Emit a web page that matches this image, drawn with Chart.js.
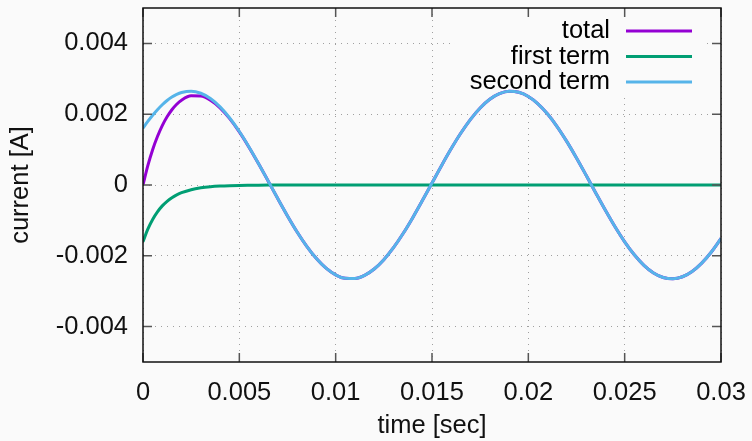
<!DOCTYPE html>
<html>
<head>
<meta charset="utf-8">
<script src="https://cdn.jsdelivr.net/npm/chart.js@4.4.1/dist/chart.umd.min.js"></script>
<style>
  html, body { margin: 0; padding: 0; background: #fafafa; }
  #wrap { width: 752px; height: 441px; }
</style>
</head>
<body>
<div id="wrap"><canvas id="chart" width="752" height="441"></canvas></div>
<script>
// time samples [sec]
const times = [
  0, 0.00025, 0.0005, 0.00075, 0.001, 0.00125, 0.0015, 0.00175, 0.002, 0.0025,
  0.003, 0.0035, 0.004, 0.0045, 0.005, 0.0055, 0.006, 0.0065, 0.007, 0.0075,
  0.008, 0.0085, 0.009, 0.0095, 0.01, 0.0105, 0.011, 0.0115, 0.012, 0.0125,
  0.013, 0.0135, 0.014, 0.0145, 0.015, 0.0155, 0.016, 0.0165, 0.017, 0.0175,
  0.018, 0.0185, 0.019, 0.0195, 0.02, 0.0205, 0.021, 0.0215, 0.022, 0.0225,
  0.023, 0.0235, 0.024, 0.0245, 0.025, 0.0255, 0.026, 0.0265, 0.027, 0.0275,
  0.028, 0.0285, 0.029, 0.0295, 0.03
];

const totalCurrent = [
  0, 0.000546, 0.000998, 0.001370, 0.001678, 0.001927, 0.002126, 0.002281, 0.002396, 0.002518,
  0.002512, 0.002394, 0.002177, 0.001874, 0.001500, 0.001069, 0.000599, 0.000107, -0.000390, -0.000873,
  -0.001327, -0.001733, -0.002078, -0.002349, -0.002537, -0.002636, -0.002641, -0.002552, -0.002373, -0.002109,
  -0.001772, -0.001371, -0.000922, -0.000440, 0.000057, 0.000553, 0.001029, 0.001468, 0.001855, 0.002177,
  0.002422, 0.002580, 0.002648, 0.002621, 0.002502, 0.002294, 0.002005, 0.001645, 0.001226, 0.000764,
  0.000275, -0.000224, -0.000714, -0.001180, -0.001604, -0.001971, -0.002268, -0.002484, -0.002613, -0.002650,
  -0.002592, -0.002442, -0.002206, -0.001892, -0.001511
];

const firstTerm = [
  -0.001604, -0.001249, -0.000973, -0.000758, -0.000590, -0.000460, -0.000358, -0.000279, -0.000217, -0.000132,
  -0.000080, -0.000048, -0.000029, -0.000018, -0.000011, -0.000007, -0.000004, -0.000002, -0.000001, 0,
  0, 0, 0, 0, 0, 0, 0, 0, 0, 0,
  0, 0, 0, 0, 0, 0, 0, 0, 0, 0,
  0, 0, 0, 0, 0, 0, 0, 0, 0, 0,
  0, 0, 0, 0, 0, 0, 0, 0, 0, 0,
  0, 0, 0, 0, 0
];

const secondTerm = [
  0.001604, 0.001795, 0.001971, 0.002128, 0.002268, 0.002387, 0.002484, 0.002560, 0.002613, 0.002650,
  0.002592, 0.002442, 0.002206, 0.001892, 0.001511, 0.001076, 0.000603, 0.000109, -0.000389, -0.000873,
  -0.001327, -0.001733, -0.002078, -0.002349, -0.002537, -0.002636, -0.002641, -0.002552, -0.002373, -0.002109,
  -0.001772, -0.001371, -0.000922, -0.000440, 0.000057, 0.000553, 0.001029, 0.001468, 0.001855, 0.002177,
  0.002422, 0.002580, 0.002648, 0.002621, 0.002502, 0.002294, 0.002005, 0.001645, 0.001226, 0.000764,
  0.000275, -0.000224, -0.000714, -0.001180, -0.001604, -0.001971, -0.002268, -0.002484, -0.002613, -0.002650,
  -0.002592, -0.002442, -0.002206, -0.001892, -0.001511
];

const seriesNames = ['total', 'first term', 'second term'];
const seriesColors = ['#9400d3', '#009e73', '#56b4e9'];

const xTicks = [0, 0.005, 0.01, 0.015, 0.02, 0.025, 0.03];
const xTickLabels = ['0', '0.005', '0.01', '0.015', '0.02', '0.025', '0.03'];
const yTicks = [-0.004, -0.002, 0, 0.002, 0.004];
const yTickLabels = ['-0.004', '-0.002', '0', '0.002', '0.004'];

const FONT = '"Liberation Sans", Arial, Helvetica, sans-serif';
const FSIZE = 25.5;

const toPoints = vals => times.map((t, i) => ({ x: t, y: vals[i] }));

const noPad = s => { s.paddingTop = 0; s.paddingBottom = 0; s.paddingLeft = 0; s.paddingRight = 0; };

// gnuplot look: background, opaque key, inward ticks, full border
const gnuplotFrame = {
  id: 'gnuplotFrame',
  beforeDraw(chart) {
    const c = chart.ctx;
    c.save();
    c.fillStyle = '#fafafa';
    c.fillRect(0, 0, chart.width, chart.height);
    c.restore();
  },
  beforeDatasetsDraw(chart) {
    const c = chart.ctx;
    const a = chart.chartArea;
    // key box (opaque)
    c.save();
    c.fillStyle = '#fafafa';
    c.fillRect(455, a.top + 1, 252, 84);
    c.font = FSIZE + 'px ' + FONT;
    c.textAlign = 'right';
    c.textBaseline = 'middle';
    chart.data.datasets.forEach((ds, i) => {
      const y = 31 + i * 25.5;
      c.fillStyle = '#000';
      c.fillText(ds.label, 610, y);
      c.strokeStyle = ds.borderColor;
      c.lineWidth = 3;
      c.beginPath();
      c.moveTo(626, y);
      c.lineTo(692, y);
      c.stroke();
    });
    c.restore();
  },
  afterDraw(chart) {
    const c = chart.ctx;
    const a = chart.chartArea;
    const xs = chart.scales.x, ys = chart.scales.y;
    c.save();
    c.strokeStyle = '#555';
    c.lineWidth = 1.5;
    c.beginPath();
    xTicks.forEach(v => {
      const px = xs.getPixelForValue(v);
      c.moveTo(px, a.bottom); c.lineTo(px, a.bottom - 9);
      c.moveTo(px, a.top); c.lineTo(px, a.top + 9);
    });
    yTicks.forEach(v => {
      const py = ys.getPixelForValue(v);
      c.moveTo(a.left, py); c.lineTo(a.left + 9, py);
      c.moveTo(a.right, py); c.lineTo(a.right - 9, py);
    });
    c.stroke();
    c.strokeStyle = '#111';
    c.lineWidth = 1.5;
    c.strokeRect(a.left, a.top, a.right - a.left, a.bottom - a.top);
    c.restore();
  }
};

new Chart(document.getElementById('chart'), {
  type: 'line',
  data: {
    datasets: seriesNames.map((name, i) => ({
      label: name,
      data: toPoints([totalCurrent, firstTerm, secondTerm][i]),
      borderColor: seriesColors[i],
      borderWidth: 3,
      pointRadius: 0,
      fill: false,
      order: 3 - i,
      cubicInterpolationMode: 'monotone'
    }))
  },
  options: {
    responsive: false,
    devicePixelRatio: 1,
    animation: false,
    layout: { padding: { top: 8, right: 31, left: 0, bottom: 0 } },
    plugins: { legend: { display: false }, tooltip: { enabled: false } },
    scales: {
      x: {
        type: 'linear',
        min: 0,
        max: 0.03,
        afterBuildTicks: s => { s.ticks = xTicks.map(v => ({ value: v })); },
        afterFit: s => { s.height = 79; noPad(s); },
        grid: { color: '#a0a0a0', lineWidth: 1, drawTicks: false },
        border: { display: false, dash: [1, 5] },
        ticks: {
          color: '#111',
          font: { family: FONT, size: FSIZE },
          padding: 16,
          maxRotation: 0,
          callback: (v, i) => xTickLabels[i]
        },
        title: { display: true, text: 'time [sec]', color: '#111', font: { family: FONT, size: FSIZE }, padding: 0 }
      },
      y: {
        min: -0.005,
        max: 0.005,
        afterBuildTicks: s => { s.ticks = yTicks.map(v => ({ value: v })); },
        afterFit: s => { s.width = 143; noPad(s); },
        grid: { color: '#a0a0a0', lineWidth: 1, drawTicks: false },
        border: { display: false, dash: [1, 5] },
        ticks: {
          color: '#111',
          font: { family: FONT, size: FSIZE },
          padding: 15,
          callback: (v, i) => yTickLabels[i]
        },
        title: { display: true, text: 'current [A]', color: '#111', font: { family: FONT, size: FSIZE }, padding: { top: 6, bottom: 0 } }
      }
    }
  },
  plugins: [gnuplotFrame]
});
</script>
</body>
</html>
